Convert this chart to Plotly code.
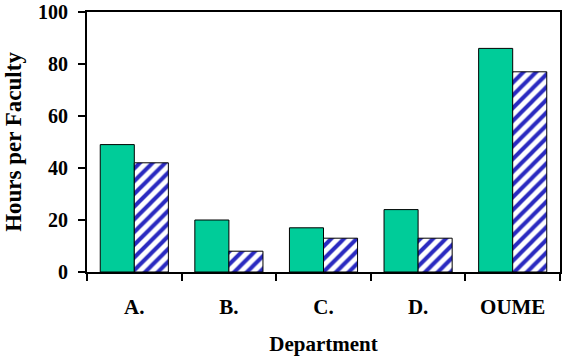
import plotly.graph_objects as go

departments = ["A.", "B.", "C.", "D.", "OUME"]
series_1 = [49, 20, 17, 24, 86]
series_2 = [42, 8, 13, 13, 77]

font_family = "Liberation Serif, Times New Roman, serif"

fig = go.Figure()
fig.add_trace(go.Bar(
    x=departments, y=series_1, name="Series 1",
    marker=dict(color="#00CC99", line=dict(color="black", width=1)),
))
fig.add_trace(go.Bar(
    x=departments, y=series_2, name="Series 2",
    marker=dict(color="white", line=dict(color="black", width=1),
                pattern=dict(shape="/", fgcolor="#2A2AC0", bgcolor="white",
                             fgopacity=1, size=9, solidity=0.45)),
))

fig.update_layout(
    width=570, height=362,
    margin=dict(l=87, r=10, t=12, b=90),
    paper_bgcolor="white", plot_bgcolor="white",
    barmode="group", bargap=0.28, bargroupgap=0,
    showlegend=False,
    font=dict(family=font_family, size=21, color="black"),
    xaxis=dict(
        automargin=False,
        showline=True, linecolor="black", linewidth=2, mirror=True,
        ticks="outside", ticklen=7, tickwidth=1.5, tickcolor="black",
        tickson="boundaries", ticklabelstandoff=15,
        tickfont=dict(family=font_family, size=21, color="black", weight="bold"),
        title=dict(text="<b>Department</b>", standoff=18,
                   font=dict(family=font_family, size=21)),
        showgrid=False,
    ),
    yaxis=dict(
        automargin=False,
        range=[0, 100], dtick=20,
        showline=True, linecolor="black", linewidth=2, mirror=True,
        ticks="outside", ticklen=7, tickwidth=1.5, tickcolor="black",
        ticklabelstandoff=6, ticklabeloverflow="allow",
        tickfont=dict(family=font_family, size=20, color="black", weight="bold"),
        title=dict(text="<b>Hours per Faculty</b>", standoff=10,
                   font=dict(family=font_family, size=23)),
        showgrid=False, zeroline=False,
    ),
)

fig.write_html("out.html")
